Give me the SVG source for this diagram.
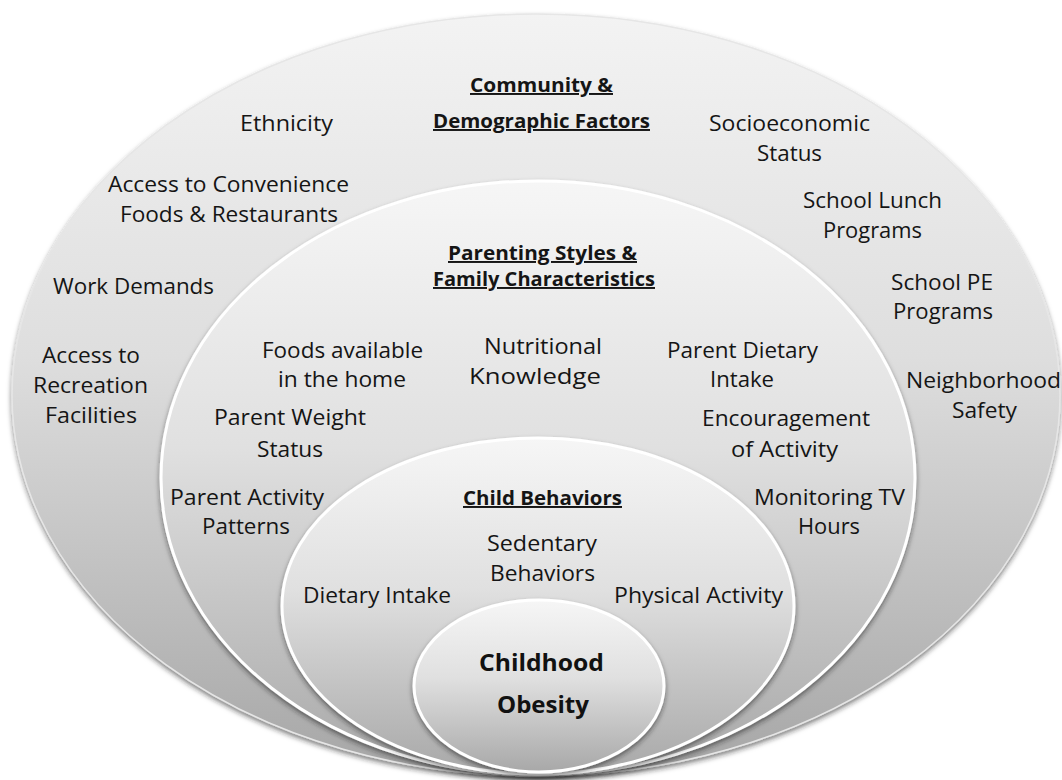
<svg xmlns="http://www.w3.org/2000/svg" width="1062" height="780" viewBox="0 0 1062 780">
<defs>
<linearGradient id="g1" x1="0" y1="0" x2="0" y2="1">
<stop offset="0" stop-color="#f3f3f3"/>
<stop offset="0.45" stop-color="#dedede"/>
<stop offset="1" stop-color="#a6a6a6"/>
</linearGradient>
<linearGradient id="g2" x1="0" y1="0" x2="0" y2="1">
<stop offset="0" stop-color="#f6f6f6"/>
<stop offset="0.45" stop-color="#e0e0e0"/>
<stop offset="1" stop-color="#a8a8a8"/>
</linearGradient>
<filter id="sh" x="-10%" y="-10%" width="120%" height="125%">
<feDropShadow dx="0" dy="3" stdDeviation="2.5" flood-color="#222" flood-opacity="0.55"/>
</filter>
<style>
.t{font-family:"Open Sans","Liberation Sans",sans-serif;font-size:22px;fill:#151515}
.h{font-family:"Open Sans","Liberation Sans",sans-serif;font-size:19.5px;font-weight:bold;fill:#151515;text-decoration:underline}
.c{font-family:"Open Sans","Liberation Sans",sans-serif;font-size:23.5px;font-weight:bold;fill:#111}
.e{stroke:#ffffff;stroke-width:3}
</style>
</defs>
<g id="community">
<ellipse cx="536" cy="395" rx="524" ry="381" fill="url(#g1)" stroke="#e6e6e6" stroke-width="1.5" filter="url(#sh)"/>
<text class="h" x="470" y="92" textLength="143" lengthAdjust="spacingAndGlyphs">Community &amp;</text>
<text class="h" x="433" y="128" textLength="217" lengthAdjust="spacingAndGlyphs">Demographic Factors</text>
<text class="t" x="240" y="131" textLength="93" lengthAdjust="spacingAndGlyphs">Ethnicity</text>
<text class="t" x="108" y="192" textLength="241" lengthAdjust="spacingAndGlyphs">Access to Convenience</text>
<text class="t" x="120" y="222" textLength="218" lengthAdjust="spacingAndGlyphs">Foods &amp; Restaurants</text>
<text class="t" x="53" y="294" textLength="161" lengthAdjust="spacingAndGlyphs">Work Demands</text>
<text class="t" x="42" y="363" textLength="98" lengthAdjust="spacingAndGlyphs">Access to</text>
<text class="t" x="33" y="393" textLength="115" lengthAdjust="spacingAndGlyphs">Recreation</text>
<text class="t" x="45" y="423" textLength="92" lengthAdjust="spacingAndGlyphs">Facilities</text>
<text class="t" x="709" y="131" textLength="161" lengthAdjust="spacingAndGlyphs">Socioeconomic</text>
<text class="t" x="757" y="161" textLength="65" lengthAdjust="spacingAndGlyphs">Status</text>
<text class="t" x="803" y="208" textLength="139" lengthAdjust="spacingAndGlyphs">School Lunch</text>
<text class="t" x="823" y="238" textLength="99" lengthAdjust="spacingAndGlyphs">Programs</text>
<text class="t" x="891" y="290" textLength="102" lengthAdjust="spacingAndGlyphs">School PE</text>
<text class="t" x="893" y="319" textLength="100" lengthAdjust="spacingAndGlyphs">Programs</text>
<text class="t" x="906" y="388" textLength="155" lengthAdjust="spacingAndGlyphs">Neighborhood</text>
<text class="t" x="952" y="418" textLength="65" lengthAdjust="spacingAndGlyphs">Safety</text>
</g>
<g id="parenting">
<ellipse class="e" cx="538" cy="478" rx="377" ry="297" fill="url(#g2)" filter="url(#sh)"/>
<text class="h" x="448" y="260" textLength="189" lengthAdjust="spacingAndGlyphs">Parenting Styles &amp;</text>
<text class="h" x="433" y="286" textLength="222" lengthAdjust="spacingAndGlyphs">Family Characteristics</text>
<text class="t" x="262" y="358" textLength="161" lengthAdjust="spacingAndGlyphs">Foods available</text>
<text class="t" x="278" y="387" textLength="128" lengthAdjust="spacingAndGlyphs">in the home</text>
<text class="t" x="484" y="354" textLength="118" lengthAdjust="spacingAndGlyphs">Nutritional</text>
<text class="t" x="469" y="384" textLength="132" lengthAdjust="spacingAndGlyphs">Knowledge</text>
<text class="t" x="667" y="358" textLength="151" lengthAdjust="spacingAndGlyphs">Parent Dietary</text>
<text class="t" x="710" y="387" textLength="64" lengthAdjust="spacingAndGlyphs">Intake</text>
<text class="t" x="214" y="425" textLength="152" lengthAdjust="spacingAndGlyphs">Parent Weight</text>
<text class="t" x="257" y="457" textLength="66" lengthAdjust="spacingAndGlyphs">Status</text>
<text class="t" x="702" y="426" textLength="168" lengthAdjust="spacingAndGlyphs">Encouragement</text>
<text class="t" x="731" y="457" textLength="107" lengthAdjust="spacingAndGlyphs">of Activity</text>
<text class="t" x="170" y="505" textLength="154" lengthAdjust="spacingAndGlyphs">Parent Activity</text>
<text class="t" x="202" y="534" textLength="88" lengthAdjust="spacingAndGlyphs">Patterns</text>
<text class="t" x="754" y="505" textLength="151" lengthAdjust="spacingAndGlyphs">Monitoring TV</text>
<text class="t" x="798" y="534" textLength="62" lengthAdjust="spacingAndGlyphs">Hours</text>
</g>
<g id="child-behaviors">
<ellipse class="e" cx="538" cy="606" rx="256" ry="168" fill="url(#g2)" filter="url(#sh)"/>
<text class="h" x="463" y="505" textLength="159" lengthAdjust="spacingAndGlyphs">Child Behaviors</text>
<text class="t" x="487" y="551" textLength="110" lengthAdjust="spacingAndGlyphs">Sedentary</text>
<text class="t" x="490" y="581" textLength="105" lengthAdjust="spacingAndGlyphs">Behaviors</text>
<text class="t" x="303" y="603" textLength="148" lengthAdjust="spacingAndGlyphs">Dietary Intake</text>
<text class="t" x="614" y="603" textLength="169" lengthAdjust="spacingAndGlyphs">Physical Activity</text>
</g>
<g id="childhood-obesity">
<ellipse class="e" cx="539" cy="686" rx="125" ry="86" fill="url(#g2)" filter="url(#sh)"/>
<text class="c" x="479" y="671" textLength="125" lengthAdjust="spacingAndGlyphs">Childhood</text>
<text class="c" x="497" y="713" textLength="92" lengthAdjust="spacingAndGlyphs">Obesity</text>
</g>
<g id="connectors"/>
</svg>
